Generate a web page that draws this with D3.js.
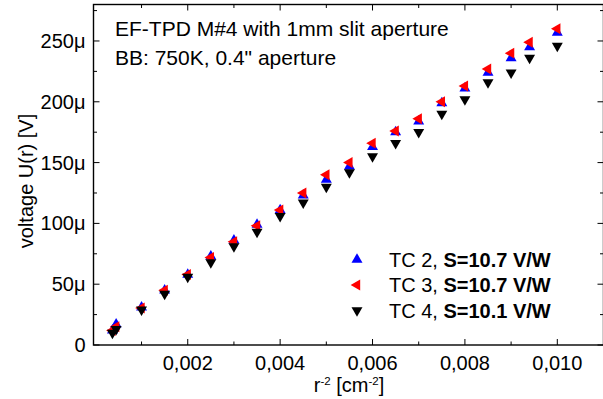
<!DOCTYPE html>
<html>
  <head>
    <meta charset="utf-8">
    <title>EF-TPD M#4 voltage vs r^-2</title>
    <script src="https://d3js.org/d3.v7.min.js"></script>
    <style>
      body { margin: 0; background: white; }
      svg { background-color: white; display: block; }
      text { font-family: "Liberation Sans", Arial, sans-serif; fill: black; }
      .frame { fill: none; stroke: black; stroke-width: 1.4px; }
    </style>
  </head>
  <body>
    <svg></svg>
    <script>
      //begin: data
      var rInvSq = [0.00037, 0.00045, 0.001, 0.0015, 0.002, 0.0025, 0.003, 0.0035, 0.004, 0.0045,
                    0.005, 0.0055, 0.006, 0.0065, 0.007, 0.0075, 0.008, 0.0085, 0.009, 0.0094, 0.010];
      // voltages in microvolts
      var tc2 = [12, 17, 31, 45, 58, 73, 86, 99, 111, 123, 136, 147, 163, 175, 184, 199, 211, 224, 236, 245, 257];
      var tc3 = [12, 15, 30.5, 45, 58, 72, 85, 98, 111, 125, 140, 150, 166, 176, 186, 200, 213, 227, 240, 249, 260];
      var tc4 = [10, 13, 29, 42, 56, 68, 81, 93, 106, 117, 130, 142, 155, 166, 175, 190, 202, 216, 224, 236, 246];
      var seriesNames = ["TC 2, ", "TC 3, ", "TC 4, "];
      var seriesS = ["S=10.7 V/W", "S=10.7 V/W", "S=10.1 V/W"];
      var xTicks = [0.002, 0.004, 0.006, 0.008, 0.010];
      var yTicks = [0, 50e-6, 100e-6, 150e-6, 200e-6, 250e-6];
      var titleLines = ["EF-TPD M#4 with 1mm slit aperture", "BB: 750K, 0.4\" aperture"];
      //end: data

      var svgWidth = 603, svgHeight = 399;
      var plot = {left: 93.5, right: 603.5, top: 4.5, bottom: 345};

      var x = d3.scaleLinear().domain([-0.00004, 0.011]).range([plot.left, plot.right]);
      var y = d3.scaleLinear().domain([0, 280e-6]).range([plot.bottom, plot.top]);

      var svg = d3.select("svg").attr("width", svgWidth).attr("height", svgHeight);

      // minor ticks
      var xMinor = d3.range(0.001, 0.0111, 0.001).filter(function(v){ return Math.round(v*1000) % 2 == 1; });
      var yMinor = d3.range(25e-6, 280e-6, 50e-6);

      function tickFmtX(v) { return d3.format(".3f")(v).replace(".", ","); }
      function tickFmtY(v) { return v == 0 ? "0" : Math.round(v*1e6) + "\u03bc"; }

      var g = svg.append("g");

      // bottom & top ticks (inward)
      [[plot.bottom, -1], [plot.top, 1]].forEach(function(p){
        g.selectAll(null).data(xTicks).enter().append("line")
          .attr("x1", function(d){ return x(d); }).attr("x2", function(d){ return x(d); })
          .attr("y1", p[0]).attr("y2", p[0] + p[1]*6)
          .attr("stroke", "black").attr("stroke-width", 1);
        g.selectAll(null).data(xMinor).enter().append("line")
          .attr("x1", function(d){ return x(d); }).attr("x2", function(d){ return x(d); })
          .attr("y1", p[0]).attr("y2", p[0] + p[1]*3.5)
          .attr("stroke", "black").attr("stroke-width", 1);
      });
      // left & right ticks
      [[plot.left, 1], [plot.right, -1]].forEach(function(p){
        g.selectAll(null).data(yTicks).enter().append("line")
          .attr("y1", function(d){ return y(d); }).attr("y2", function(d){ return y(d); })
          .attr("x1", p[0]).attr("x2", p[0] + p[1]*6)
          .attr("stroke", "black").attr("stroke-width", 1);
        g.selectAll(null).data(yMinor).enter().append("line")
          .attr("y1", function(d){ return y(d); }).attr("y2", function(d){ return y(d); })
          .attr("x1", p[0]).attr("x2", p[0] + p[1]*3.5)
          .attr("stroke", "black").attr("stroke-width", 1);
      });

      g.append("rect").classed("frame", true)
        .attr("x", plot.left).attr("y", plot.top)
        .attr("width", plot.right - plot.left).attr("height", plot.bottom - plot.top);

      // tick labels
      g.selectAll(null).data(xTicks).enter().append("text")
        .attr("x", function(d){ return x(d); }).attr("y", plot.bottom + 25)
        .attr("text-anchor", "middle").style("font-size", "20px")
        .text(tickFmtX);
      g.selectAll(null).data(yTicks).enter().append("text")
        .attr("x", plot.left - 8).attr("y", function(d){ return y(d) + 7; })
        .attr("text-anchor", "end").style("font-size", "20px")
        .text(tickFmtY);

      // axis titles
      var xt = svg.append("text").attr("x", 349).attr("y", 392).attr("text-anchor", "middle")
        .style("font-size", "20px");
      xt.append("tspan").text("r");
      xt.append("tspan").attr("dy", -7).style("font-size", "11.5px").text("-2");
      xt.append("tspan").attr("dy", 7).text(" [cm");
      xt.append("tspan").attr("dy", -7).style("font-size", "11.5px").text("-2");
      xt.append("tspan").attr("dy", 7).text("]");

      svg.append("text").attr("transform", "translate(" + [33, 181] + ") rotate(-90)")
        .attr("text-anchor", "middle").style("font-size", "20px")
        .text("voltage U(r) [V]");

      // title
      svg.selectAll(null).data(titleLines).enter().append("text")
        .attr("x", 115).attr("y", function(d, i){ return 35.5 + i*29.5; })
        .style("font-size", "21px")
        .text(function(d){ return d; });

      // markers
      var sym = d3.symbol().type(d3.symbolTriangle).size(52);
      var series = [
        {vals: tc2, color: "#0000ff", rot: 0},
        {vals: tc3, color: "#ff0000", rot: -90},
        {vals: tc4, color: "#000000", rot: 180}
      ];
      series.forEach(function(s){
        svg.append("g").selectAll("path").data(s.vals).enter().append("path")
          .attr("d", sym)
          .attr("fill", s.color)
          .attr("transform", function(d, i){
            return "translate(" + [x(rInvSq[i]), y(d*1e-6)] + ") rotate(" + s.rot + ")";
          });
      });

      // legend
      var legend = svg.append("g").attr("transform", "translate(357,259.5)");
      series.forEach(function(s, i){
        legend.append("path").attr("d", sym).attr("fill", s.color)
          .attr("transform", "translate(" + [0, i*25.5] + ") rotate(" + s.rot + ")");
        var t = legend.append("text").attr("x", 32).attr("y", i*25.5 + 7).style("font-size", "20px");
        t.append("tspan").text(seriesNames[i]);
        t.append("tspan").style("font-weight", "bold").text(seriesS[i]);
      });
    </script>
  </body>
</html>
